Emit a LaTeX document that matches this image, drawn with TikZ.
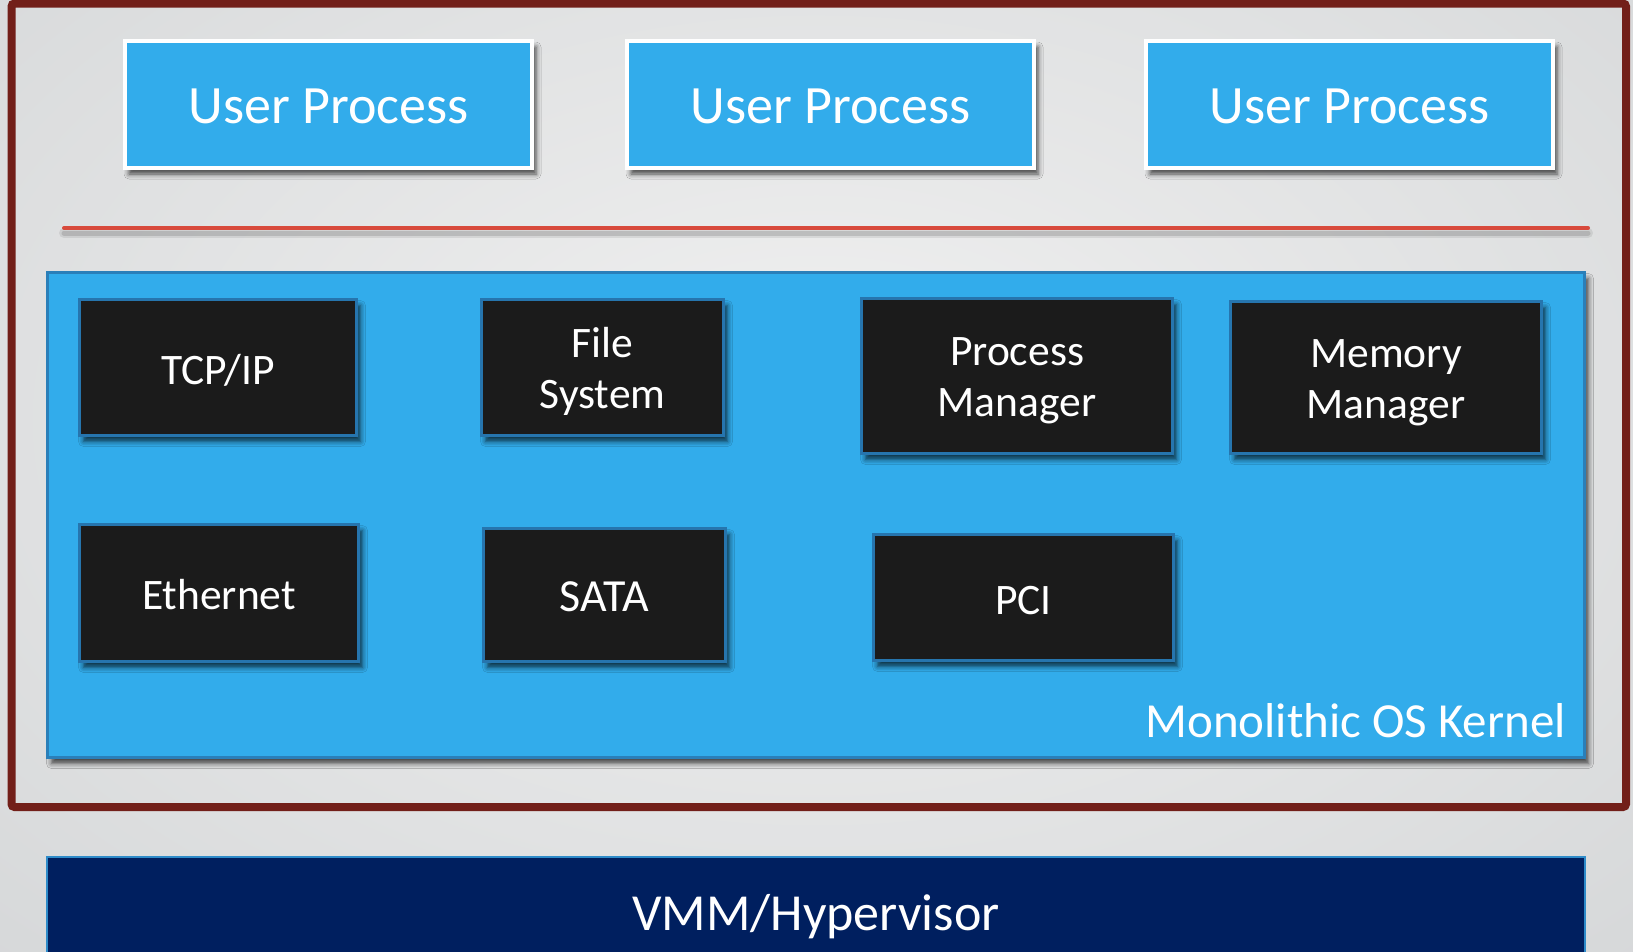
\documentclass[tikz,border=0pt]{standalone}
\usepackage{fontspec}
\setmainfont{Carlito}
\usetikzlibrary{shadows.blur}
\definecolor{bgin}{HTML}{F1F1F1}
\definecolor{bgout}{HTML}{C6C9CB}
\definecolor{framec}{HTML}{721F19}
\definecolor{redline}{HTML}{D84A3C}
\definecolor{ublue}{HTML}{32ACEB}
\definecolor{kborder}{HTML}{2A7FB9}
\definecolor{bborder}{HTML}{2675AE}
\definecolor{bfill}{HTML}{1B1B1B}
\definecolor{vmmfill}{HTML}{001F5F}
\definecolor{vmmborder}{HTML}{2E8BC9}
\tikzset{
  shad/.style={blur shadow={shadow xshift=4pt, shadow yshift=-6pt, shadow blur radius=5pt, shadow opacity=70}},
  userbox/.style={draw=white, line width=4pt, fill=ublue, inner sep=0pt, shad},
  kernelbox/.style={draw=kborder, line width=3pt, fill=ublue, inner sep=0pt, shad},
  blackbox/.style={draw=bborder, line width=3pt, fill=bfill, inner sep=0pt, shad},
  vmmbox/.style={draw=vmmborder, line width=2pt, fill=vmmfill, inner sep=0pt},
  utext/.style={text=white, inner sep=0pt, font=\fontsize{54}{64}\selectfont},
  btext/.style={text=white, inner sep=0pt, align=center, font=\fontsize{43.5}{51}\selectfont},
  vtext/.style={text=white, inner sep=0pt, font=\fontsize{52}{62}\selectfont},
}
\begin{document}
\begin{tikzpicture}[x=1pt,y=-1pt]
\useasboundingbox (0,0) rectangle (1633,951);
\begin{scope}
\clip (0,0) rectangle (1633,951);
% background
\shade[inner color=bgin, outer color=bgout] (-1084,-780) rectangle (2716,1620);
% outer frame
\draw[framec, line width=8pt, rounded corners=3pt] (11.5,3.5) rectangle (1626,807);
% separator line
\coordinate (rl1) at (64,228);
\coordinate (rl2) at (1588,228);
\draw[black, opacity=0.08, line width=10pt, line cap=round] ([yshift=-5pt]rl1) -- ([yshift=-5pt]rl2);
\draw[black, opacity=0.12, line width=5pt, line cap=round] ([yshift=-5pt]rl1) -- ([yshift=-5pt]rl2);
\draw[redline, line width=4pt, line cap=round] (rl1) -- (rl2);
% user processes
\node[userbox, minimum width=407pt, minimum height=127pt] (u1) at (328.5,104.5) {};
\node[userbox, minimum width=407pt, minimum height=127pt] (u2) at (830.5,104.5) {};
\node[userbox, minimum width=407pt, minimum height=127pt] (u3) at (1349.5,104.5) {};
\node[utext] (u1t) at ([yshift=-2pt]u1.center) {User Process};
\node[utext] (u2t) at ([yshift=-2pt]u2.center) {User Process};
\node[utext] (u3t) at ([yshift=-2pt]u3.center) {User Process};
% kernel
\node[kernelbox, minimum width=1537pt, minimum height=485pt] (kernel) at (816,515) {};
\node[anchor=base east, text=white, inner sep=0pt, font=\fontsize{49}{58}\selectfont] (klabel) at (1566,737) {Monolithic OS Kernel};
% components
\node[blackbox, minimum width=277pt, minimum height=136pt] (tcp) at (218,367.5) {};
\node[blackbox, minimum width=242pt, minimum height=136pt] (fs) at (602.5,367.5) {};
\node[blackbox, minimum width=311pt, minimum height=155pt] (pm) at (1017,376) {};
\node[blackbox, minimum width=311pt, minimum height=152pt] (mm) at (1386,377.5) {};
\node[blackbox, minimum width=279pt, minimum height=137pt] (eth) at (219,593) {};
\node[blackbox, minimum width=242pt, minimum height=133pt] (sata) at (604.5,595) {};
\node[blackbox, minimum width=300pt, minimum height=126pt] (pci) at (1023.5,597.5) {};
\node[btext] (tcpt) at ([yshift=-3pt]tcp.center) {TCP/IP};
\node[btext] (fst) at ([yshift=-4pt]fs.center) {File\\System};
\node[btext] (pmt) at ([yshift=-5pt]pm.center) {Process\\Manager};
\node[btext] (mmt) at ([yshift=-5pt]mm.center) {Memory\\Manager};
\node[btext] (etht) at ([yshift=-2pt]eth.center) {Ethernet};
\node[btext, font=\fontsize{46}{51}\selectfont] (satat) at ([yshift=-2pt]sata.center) {SATA};
\node[btext] (pcit) at ([yshift=-3pt]pci.center) {PCI};
% hypervisor
\node[vmmbox, minimum width=1538pt, minimum height=112pt] (vmm) at (816,913) {};
\node[vtext] (vmmt) at ([yshift=-4pt]vmm.center) {VMM/Hypervisor};
\end{scope}
\end{tikzpicture}
\end{document}
